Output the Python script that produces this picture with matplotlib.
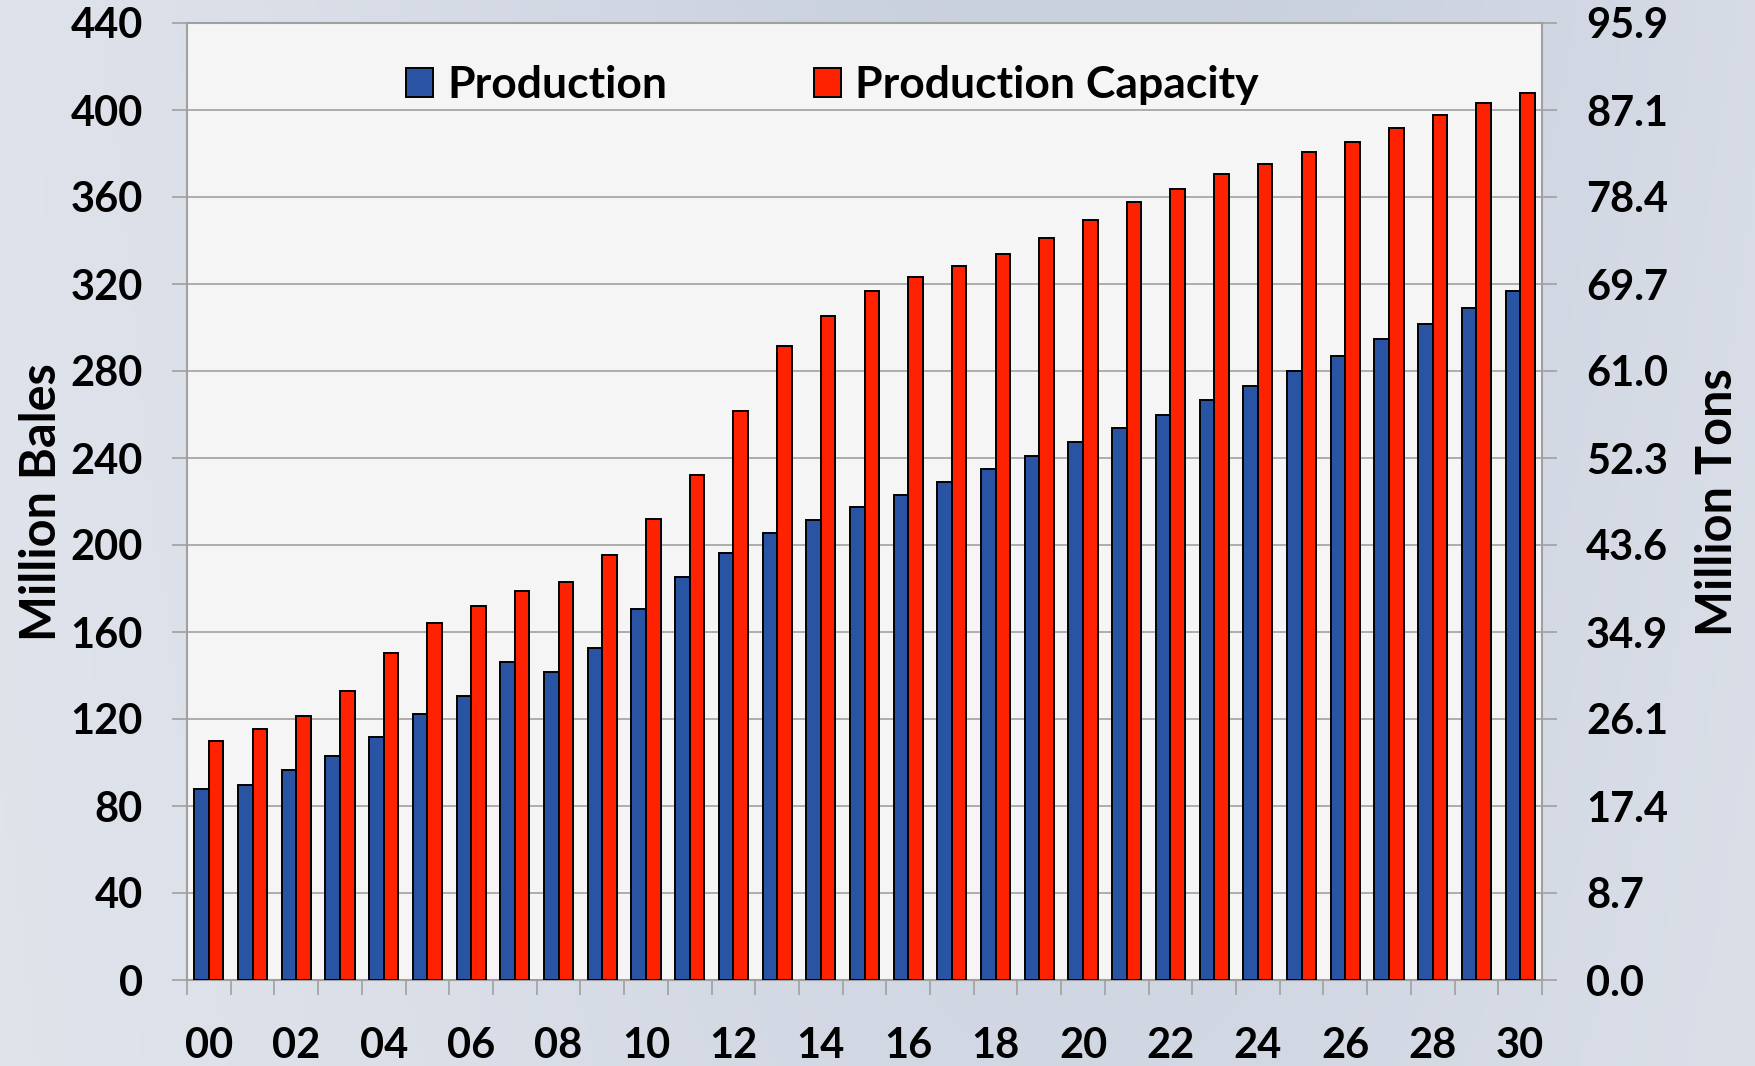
import numpy as np
import matplotlib
matplotlib.use("Agg")
import matplotlib.pyplot as plt
from matplotlib.patches import Patch

# ---------------- data ----------------
years = ['00', '01', '02', '03', '04', '05', '06', '07', '08', '09',
         '10', '11', '12', '13', '14', '15', '16', '17', '18', '19',
         '20', '21', '22', '23', '24', '25', '26', '27', '28', '29', '30']
production = [88, 89.5, 96.5, 103, 111.5, 122.5, 130.5, 146, 141.5, 152.5,
              170.5, 185.5, 196.5, 205.5, 211.5, 217.5, 223, 229, 235, 241,
              247.5, 254, 260, 266.5, 273, 280, 287, 294.5, 301.5, 309, 317]
capacity = [110, 115.5, 121.5, 133, 150.5, 164, 172, 179, 183, 195.5,
            212, 232, 261.5, 291.5, 305.5, 317, 323, 328.5, 334, 341,
            349.5, 357.5, 363.5, 370.5, 375, 380.5, 385.5, 391.5, 397.5, 403, 408]
left_ticks = [0, 40, 80, 120, 160, 200, 240, 280, 320, 360, 400, 440]
right_tick_labels = ['0.0', '8.7', '17.4', '26.1', '34.9', '43.6', '52.3',
                     '61.0', '69.7', '78.4', '87.1', '95.9']
series_names = ['Production', 'Production Capacity']

# ---------------- style ----------------
plt.rcParams['font.family'] = ['Lato', 'DejaVu Sans']
plt.rcParams['font.weight'] = 'bold'
BLUE = '#2953A3'
RED = '#FF2200'
GRID = '#A0A0A0'
W, H = 1756, 1066

fig = plt.figure(figsize=(W / 100, H / 100), dpi=100)

# gradient background
bg = fig.add_axes([0, 0, 1, 1], zorder=-10)
gx, gy = np.meshgrid(np.linspace(0, 1, 400), np.linspace(0, 1, 240))
light = np.array([0xE1, 0xE5, 0xEC]) / 255.0
dark = np.array([0xC9, 0xD0, 0xDE]) / 255.0
f = np.exp(-((gx - 0.62) / 0.42) ** 2) * (1.0 - 0.35 * gy)
f = np.clip(f, 0, 1)
img = light[None, None, :] * (1 - f[..., None]) + dark[None, None, :] * f[..., None]
bg.imshow(img, aspect='auto', extent=[0, 1, 0, 1], origin='upper')
bg.axis('off')

left, right, top, bottom = 187, 1542, 23, 980
ax = fig.add_axes([left / W, 1 - bottom / H, (right - left) / W, (bottom - top) / H])
ax.set_zorder(1)
ax.set_facecolor('#F5F5F5')

x = np.arange(len(years))
bw = 0.333
ax.bar(x - bw / 2, production, width=bw, color=BLUE, edgecolor='black',
       linewidth=1.4, zorder=3)
ax.bar(x + bw / 2, capacity, width=bw, color=RED, edgecolor='black',
       linewidth=1.4, zorder=3)

ax.set_xlim(-0.5, len(years) - 0.5)
ax.set_ylim(0, 440)
ax.set_yticks(left_ticks)
ax.set_yticklabels([str(v) for v in left_ticks])
ax.yaxis.grid(True, color=GRID, linewidth=1.2, zorder=0)
ax.set_axisbelow(True)

for s in ['left', 'right', 'bottom', 'top']:
    ax.spines[s].set_color(GRID)
    ax.spines[s].set_linewidth(1.5)

ax.tick_params(axis='y', direction='out', length=10.8, width=1.2, color=GRID,
               pad=21, labelsize=30)
ax.set_xticks(np.arange(-0.5, len(years), 1))
ax.set_xticklabels([])
ax.tick_params(axis='x', which='major', direction='out', length=10.8, width=1.2,
               color=GRID)
ax.set_xticks(x[::2], minor=True)
ax.set_xticklabels(years[::2], minor=True)
ax.tick_params(axis='x', which='minor', length=0, pad=34, labelsize=30)

ax2 = ax.twinx()
ax2.set_ylim(0, 440)
ax2.set_yticks(left_ticks)
ax2.set_yticklabels(right_tick_labels)
ax2.tick_params(axis='y', direction='out', length=10.8, width=1.2, color=GRID,
                pad=21, labelsize=30)
for s in ['left', 'right', 'bottom', 'top']:
    ax2.spines[s].set_visible(False)

fig.text(41.5 / W, 1 - 502 / H, 'Million Bales', rotation=90, ha='center',
         va='center', fontsize=35, fontweight='bold')
fig.text(1717.5 / W, 1 - 502 / H, 'Million Tons', rotation=90, ha='center',
         va='center', fontsize=35, fontweight='bold')

handles = [Patch(facecolor=BLUE, edgecolor='black', linewidth=1.4),
           Patch(facecolor=RED, edgecolor='black', linewidth=1.4)]
fig.legend(handles, series_names, loc='center left',
           bbox_to_anchor=(406 / W, 1 - 85 / H), ncol=2, frameon=False,
           fontsize=32, handlelength=0.61, handleheight=0.63,
           handletextpad=0.32, columnspacing=3.3, borderpad=0,
           borderaxespad=0)

fig.savefig('out.png', dpi=100)
